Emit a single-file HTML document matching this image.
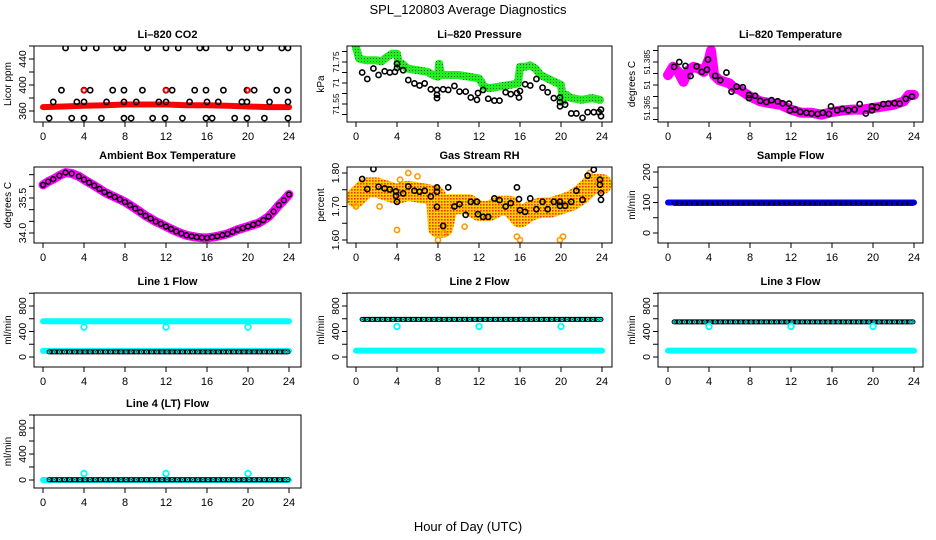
<!DOCTYPE html>
<html><head><meta charset="utf-8">
<style>
body{margin:0;background:#fff;}
svg{display:block;font-family:"Liberation Sans",sans-serif;}
</style></head>
<body>
<svg id="chart" width="936" height="540" viewBox="0 0 936 540" xmlns="http://www.w3.org/2000/svg">
<defs>
<pattern id="rhPat" width="3" height="3" patternUnits="userSpaceOnUse"><rect width="3" height="3" fill="#ffd000"/><rect x="0" y="0" width="1.6" height="1.6" fill="#ff3000"/></pattern>
<pattern id="grPat" width="3" height="3" patternUnits="userSpaceOnUse"><rect width="3" height="3" fill="#22ee22"/><rect x="1" y="1" width="1" height="1" fill="#116611"/></pattern>
</defs>
<text x="468" y="14" font-size="13" text-anchor="middle">SPL_120803  Average Diagnostics</text>
<text x="468" y="531" font-size="13" text-anchor="middle">Hour of Day (UTC)</text>
</svg>
<script>
// ---- data ----
const xTickLabels = [0,4,8,12,16,20,24];
const co2Red = [[0,366],[2,367],[4,368],[6,369],[8,370],[10,370],[12,370],[14,369],[16,369],[18,368],[20,367],[22,366],[24,366]];
const co2TopHours = [2.2,4.0,5.2,7.2,7.8,10.2,12.0,13.2,15.3,15.9,18.2,19.9,21.2,23.3,23.9];
const co2MidHours = [1.8,4.0,4.6,6.8,7.9,9.7,12.0,12.6,14.8,15.9,17.6,19.9,20.6,22.8,23.9];
const co2LowHours = [1.0,3.3,4.0,6.2,7.9,9.1,11.3,12.0,14.3,16.0,17.1,19.4,19.9,22.1,23.9];
const co2BotHours = [0.6,2.8,4.0,5.7,7.9,8.6,10.7,11.9,13.6,15.9,16.5,18.7,19.9,21.6,23.9];
const co2Levels = [457,392,374,349];
const co2RedDots = [[4,392],[12,392],[20,392]];

const presGreenH = [0,0.3,1,2,2.5,3,3.5,4,4.2,4.5,5,6,7,7.5,8,8.1,8.3,9,10,11,12,12.2,12.5,13,14,15,15.8,16,16.5,17,17.5,18,19,20,20.2,20.5,21,22,23,23.8];
const presGreenV = [71.820,71.766,71.758,71.758,71.753,71.773,71.789,71.789,71.734,71.742,71.719,71.711,71.703,71.688,71.680,71.742,71.688,71.688,71.688,71.680,71.672,71.656,71.633,71.625,71.633,71.641,71.648,71.727,71.727,71.734,71.719,71.688,71.664,71.641,71.563,71.594,71.578,71.570,71.578,71.570];
const presBlackH = [0.6,1.1,1.7,2.2,2.8,3.3,3.8,4.0,4.0,4.6,5.1,5.7,6.2,6.7,7.3,7.9,7.9,7.9,8.5,9.0,9.6,10.1,10.7,11.2,11.8,11.9,12.4,12.9,13.5,14.0,14.6,15.1,15.7,15.9,16.0,16.5,17.0,17.6,18.2,18.7,19.3,19.9,19.9,19.9,20.4,21.0,21.5,22.1,22.6,23.2,23.7,23.9,23.9];
const presBlackV = [71.700,71.669,71.719,71.688,71.706,71.700,71.703,71.742,71.722,71.711,71.664,71.648,71.638,71.648,71.620,71.617,71.594,71.578,71.620,71.617,71.636,71.609,71.609,71.581,71.570,71.602,71.617,71.575,71.566,71.566,71.606,71.597,71.602,71.581,71.612,71.644,71.638,71.669,71.628,71.606,71.578,71.581,71.559,71.539,71.547,71.505,71.505,71.484,71.511,71.511,71.511,71.492,71.523];

const tempBandH = [0,0.5,1,1.5,2,2.5,3,3.5,4,4.2,4.5,5,6,6.5,7,8,9,10,11,12,13,14,15,16,17,18,19,20,21,22,23,23.5,24];
const tempBandV = [51.3793,51.3829,51.3807,51.3764,51.3814,51.3829,51.3821,51.3807,51.3864,51.3900,51.3793,51.3771,51.3757,51.3736,51.3729,51.3700,51.3679,51.3671,51.3664,51.3643,51.3629,51.3629,51.3621,51.3633,51.3639,51.3643,51.3643,51.3650,51.3657,51.3664,51.3679,51.3707,51.3707];
const tempBlackH = [0.6,1.1,1.7,2.2,2.8,3.3,3.8,3.9,4.6,5.1,5.7,6.2,6.7,7.3,7.9,7.9,8.5,9.0,9.6,10.1,10.7,11.2,11.8,11.9,12.4,12.9,13.5,14.0,14.6,15.1,15.7,15.9,16.5,17.0,17.6,18.2,18.7,19.3,19.9,19.9,20.4,21.0,21.5,22.1,22.6,23.2,23.8];
const tempBlackV = [51.3829,51.3850,51.3833,51.3789,51.3831,51.3807,51.3817,51.3861,51.3790,51.3771,51.3804,51.3721,51.3743,51.3740,51.3707,51.3693,51.3703,51.3681,51.3676,51.3684,51.3679,51.3670,51.3669,51.3639,51.3643,51.3633,51.3629,51.3626,51.3624,51.3629,51.3624,51.3657,51.3640,51.3646,51.3640,51.3643,51.3667,51.3626,51.3640,51.3657,51.3654,51.3667,51.3669,51.3671,51.3669,51.3690,51.3700];

const ambH = [0,0.5,1,1.6,2.2,2.8,3.5,4,4.5,5,5.5,6,6.5,7,7.5,8,8.5,9,9.5,10,10.5,11,11.5,12,12.5,13,13.5,14,14.5,15,15.5,16,16.5,17,17.5,18,18.5,19,19.5,20,20.5,21,21.5,22,22.5,23,23.5,24];
const ambV = [36.06,36.20,36.31,36.46,36.59,36.55,36.43,36.29,36.16,36.03,35.89,35.75,35.64,35.54,35.44,35.33,35.19,35.05,34.90,34.74,34.62,34.49,34.39,34.28,34.17,34.07,33.98,33.90,33.86,33.82,33.80,33.79,33.82,33.86,33.91,33.96,34.05,34.14,34.21,34.28,34.35,34.42,34.55,34.70,34.92,35.19,35.40,35.65];

const rhBandH = [0,1,2,3,4,5,6,7,7.8,8,8.5,9,10,11,12,13,14,15,16,17,18,19,20,21,22,23,24];
const rhBandV = [1.727,1.757,1.757,1.747,1.737,1.747,1.742,1.737,1.732,1.637,1.637,1.707,1.707,1.707,1.687,1.687,1.702,1.702,1.667,1.687,1.697,1.697,1.707,1.717,1.737,1.767,1.767];
const rhOutH = [0,2.3,4,4.3,5.1,6,8,8.6,10.6,15.7,16,19.9,20.2,22.8,23.5];
const rhOutV = [1.700,1.700,1.630,1.780,1.800,1.790,1.600,1.620,1.640,1.610,1.600,1.600,1.610,1.800,1.780];
const rhBlackH = [0.6,1.1,1.7,2.2,2.8,3.3,3.9,3.9,4.0,4.6,5.1,5.7,6.2,6.7,7.3,7.9,7.9,7.9,8.5,9.0,9.6,10.1,10.7,11.2,11.8,11.9,12.4,12.9,13.5,14.0,14.6,15.1,15.7,15.9,16.0,16.5,17.0,17.6,18.2,18.7,19.3,19.9,19.9,20.4,21.0,21.5,22.1,22.6,23.2,23.8,23.8,23.9,23.9];
const rhBlackV = [1.782,1.752,1.812,1.759,1.754,1.751,1.745,1.732,1.714,1.739,1.760,1.747,1.744,1.747,1.730,1.757,1.744,1.699,1.642,1.757,1.700,1.707,1.675,1.714,1.714,1.677,1.669,1.669,1.724,1.719,1.700,1.710,1.757,1.722,1.689,1.684,1.724,1.692,1.714,1.692,1.714,1.714,1.702,1.702,1.714,1.747,1.720,1.792,1.810,1.780,1.765,1.740,1.720];

const hourly = [0,1,2,3,4,5,6,7,8,9,10,11,12,13,14,15,16,17,18,19,20,21,22,23,24];
const sampleBlue = [100,100,100,100,100,100,100,100,100,100,100,100,100,100,100,100,100,100,100,100,100,100,100,100,100];
const flowHours = [0.6,1.1,1.6,2.1,2.6,3.1,3.6,4.1,4.6,5.1,5.6,6.1,6.6,7.1,7.6,8.1,8.6,9.1,9.6,10.1,10.6,11.1,11.6,12.1,12.6,13.1,13.6,14.1,14.6,15.1,15.6,16.1,16.6,17.1,17.6,18.1,18.6,19.1,19.6,20.1,20.6,21.1,21.6,22.1,22.6,23.1,23.6,23.9];
const sampleBlack = [97,97,97,97,97,97,97,97,97,97,97,97,97,97,97,97,97,97,97,97,97,97,97,97,97,97,97,97,97,97,97,97,97,97,97,97,97,97,97,97,97,97,97,97,97,97,97,97];
const line1Black = [80,80,80,80,80,80,80,80,80,80,80,80,80,80,80,80,80,80,80,80,80,80,80,80,80,80,80,80,80,80,80,80,80,80,80,80,80,80,80,80,80,80,80,80,80,80,80,80];
const line1CyanHi = [560,560,560,560,560,560,560,560,560,560,560,560,560,560,560,560,560,560,560,560,560,560,560,560,560];
const line1CyanLo = [95,95,95,95,95,95,95,95,95,95,95,95,95,95,95,95,95,95,95,95,95,95,95,95,95];
const line2Black = [590,590,590,590,590,590,590,590,590,590,590,590,590,590,590,590,590,590,590,590,590,590,590,590,590,590,590,590,590,590,590,590,590,590,590,590,590,590,590,590,590,590,590,590,590,590,590,590];
const line2CyanLo = [100,100,100,100,100,100,100,100,100,100,100,100,100,100,100,100,100,100,100,100,100,100,100,100,100];
const line3Black = [550,550,550,550,550,550,550,550,550,550,550,550,550,550,550,550,550,550,550,550,550,550,550,550,550,550,550,550,550,550,550,550,550,550,550,550,550,550,550,550,550,550,550,550,550,550,550,550];
const line3CyanLo = [100,100,100,100,100,100,100,100,100,100,100,100,100,100,100,100,100,100,100,100,100,100,100,100,100];
const line4Black = [5,5,5,5,5,5,5,5,5,5,5,5,5,5,5,5,5,5,5,5,5,5,5,5,5,5,5,5,5,5,5,5,5,5,5,5,5,5,5,5,5,5,5,5,5,5,5,5];
const line4Cyan = [0,0,0,0,0,0,0,0,0,0,0,0,0,0,0,0,0,0,0,0,0,0,0,0,0];
const outlierHours = [4,12,20];
const line1Out = [470,470,470];
const line2Out = [480,480,480];
const line3Out = [480,480,480];
const line4Out = [100,100,100];

// ---- drawing ----
const svg = document.getElementById('chart');
const NS = 'http://www.w3.org/2000/svg';
function mk(tag, attrs, parent){const e=document.createElementNS(NS,tag);for(const k in attrs)e.setAttribute(k,attrs[k]);(parent||svg).appendChild(e);return e;}
const cols=[{bx0:34,bx1:301,h0:43,h24:289},{bx0:347,bx1:612,h0:356,h24:602},{bx0:658,bx1:923,h0:668,h24:914}];
const rows=[{by0:46,by1:122},{by0:167,by1:243},{by0:293,by1:367},{by0:415,by1:488}];

function panel(name,c,r,title,ylab,ref,ticks,labels,lfs){
  const C=cols[c],R=rows[r];
  const g=mk('g',{});
  
  
  const X=h=>C.h0+(C.h24-C.h0)*h/24;
  const Y=v=>ref[1]+(v-ref[0])*(ref[3]-ref[1])/(ref[2]-ref[0]);
  const t=mk('text',{x:(C.bx0+C.bx1)/2,y:R.by0-8,'font-size':11,'font-weight':'bold','text-anchor':'middle'},g);t.textContent=title;
  
  
  const yl=mk('text',{transform:`translate(${C.bx0-23},${(R.by0+R.by1)/2}) rotate(-90)`,'font-size':10,'text-anchor':'middle'},g);yl.textContent=ylab;
  
  
  xTickLabels.forEach(h=>{
    const x=X(h);mk('line',{x1:x,x2:x,y1:R.by1,y2:R.by1+5,stroke:'#000'},g);
    const tl=mk('text',{x:x,y:R.by1+18,'font-size':11,'text-anchor':'middle'},g);tl.textContent=h;
    
    
  });
  ticks.forEach(v=>{const y=Y(v);mk('line',{x1:C.bx0-5,x2:C.bx0,y1:y,y2:y,stroke:'#000'},g);});
  labels.forEach(([v,s])=>{const y=Y(v);const tl=mk('text',{transform:`translate(${C.bx0-8},${y}) rotate(-90)`,'font-size':lfs||10.5,'text-anchor':'middle'},g);tl.textContent=s;
    
    });
  const clip='clip'+name;const cp=mk('clipPath',{id:clip},g);mk('rect',{x:C.bx0,y:R.by0,width:C.bx1-C.bx0,height:R.by1-R.by0},cp);
  const plot=mk('g',{'clip-path':`url(#${clip})`},g);
  const box=mk('rect',{x:C.bx0,y:R.by0,width:C.bx1-C.bx0,height:R.by1-R.by0,fill:'none',stroke:'#000'},g);
  
  
  return {X,Y,plot,g,box};
}
function band(p,hs,vs,color,w,nm){
  const d=hs.map((h,i)=>(i?'L':'M')+p.X(h).toFixed(1)+' '+p.Y(vs[i]).toFixed(1)).join(' ');
  const e=mk('path',{d,fill:'none',stroke:color,'stroke-width':w,'stroke-linecap':'round','stroke-linejoin':'round'},p.plot);
  
  
}
function pts(p,hs,vs,color,nm,r,sw,fill){
  hs.forEach((h,i)=>{const e=mk('circle',{cx:p.X(h),cy:p.Y(vs[i]),r:r||2.6,fill:fill||'none',stroke:color,'stroke-width':sw||1.6},p.plot);
    
    });
}

// CO2
let p=panel('co2',0,0,'Li\u2013820 CO2','Licor ppm',[360,111,440,59],[360,380,400,420,440,460],[[360,'360'],[400,'400'],[440,'440']]);
band(p,co2Red.map(d=>d[0]),co2Red.map(d=>d[1]),'#ff0000',6,'co2-red-band');
[co2TopHours,co2MidHours,co2LowHours,co2BotHours].forEach((hs,k)=>pts(p,hs,hs.map(()=>co2Levels[k]),'#000','co2-point'));
pts(p,co2RedDots.map(d=>d[0]),co2RedDots.map(d=>d[1]),'#ff0000','co2-red-point',2.2);
// Pressure
p=panel('pressure',1,0,'Li\u2013820 Pressure','kPa',[71.55,104,71.75,62],[71.50,71.55,71.60,71.65,71.70,71.75,71.80],[[71.55,'71.55'],[71.65,'71'],[71.75,'71.75']],8.5);
band(p,presGreenH,presGreenV,'url(#grPat)',8,'pressure-green-band');
pts(p,presBlackH,presBlackV,'#000','pressure-point');
// Li-820 temp
p=panel('licor-temp',2,0,'Li\u2013820 Temperature','degrees C',[51.365,108,51.385,62],[51.36,51.365,51.37,51.375,51.38,51.385,51.39],[[51.365,'51.365'],[51.375,'51'],[51.385,'51.385']],8);
band(p,tempBandH,tempBandV,'#ff00ff',10,'licor-temp-band');
pts(p,tempBlackH,tempBlackV,'#000','licor-temp-point');
// Ambient
p=panel('ambient-temp',0,1,'Ambient Box Temperature','degrees C',[35.5,198,34.0,233],[34.0,34.5,35.0,35.5,36.0,36.5],[[34.0,'34.0'],[35.5,'35.5']]);
band(p,ambH,ambV,'#ff00ff',9,'ambient-temp-band');
pts(p,ambH,ambV,'#000','ambient-temp-point',2.4,1.5);
// RH
p=panel('rh',1,1,'Gas Stream RH','percent',[1.80,173,1.60,240],[1.60,1.65,1.70,1.75,1.80],[[1.60,'1.60'],[1.70,'1.70'],[1.80,'1.80']]);
band(p,rhBandH,rhBandV,'url(#rhPat)',20,'rh-band');
pts(p,rhOutH,rhOutV,'#ff9900','rh-outlier',2.6,1.6);
pts(p,rhBlackH,rhBlackV,'#000','rh-point');
// Sample flow
p=panel('sample-flow',2,1,'Sample Flow','ml/min',[200,172,0,233],[0,50,100,150,200],[[0,'0'],[100,'100'],[200,'200']]);
band(p,hourly,sampleBlue,'#0000ff',6,'sample-flow-band');
band(p,flowHours,sampleBlack,'#000',5,'sample-flow-black-band');
pts(p,flowHours,sampleBlack,'#0000ff','sample-flow-point',1.2,1);
// Line flows
const fT=[0,200,400,600,800,1000],fL=[[0,'0'],[400,'400'],[800,'800']];
function flowPanel(nm,c,r,title,cyan1,cyan2,black,out){
  const q=panel(nm,c,r,title,'ml/min',[0,rows[r].by1-(r===2?10:8),800,rows[r].by1-(r===2?61:60)],fT,fL);
  if(cyan1)band(q,hourly,cyan1,'#00ffff',6,nm+'-cyan-band');
  if(cyan2)band(q,hourly,cyan2,'#00ffff',6,nm+'-cyan-band-low');
  band(q,flowHours,black,'#000',5,nm+'-black-band');
  pts(q,flowHours,black,'#00ffff',nm+'-point',1.1,0.9);
  pts(q,outlierHours,out,'#00ffff',nm+'-outlier',2.8,1.8);
}
flowPanel('line1-flow',0,2,'Line 1 Flow',line1CyanHi,line1CyanLo,line1Black,line1Out);
flowPanel('line2-flow',1,2,'Line 2 Flow',null,line2CyanLo,line2Black,line2Out);
flowPanel('line3-flow',2,2,'Line 3 Flow',null,line3CyanLo,line3Black,line3Out);
flowPanel('line4-flow',0,3,'Line 4 (LT) Flow',line4Cyan,null,line4Black,line4Out);
</script>
</body></html>
